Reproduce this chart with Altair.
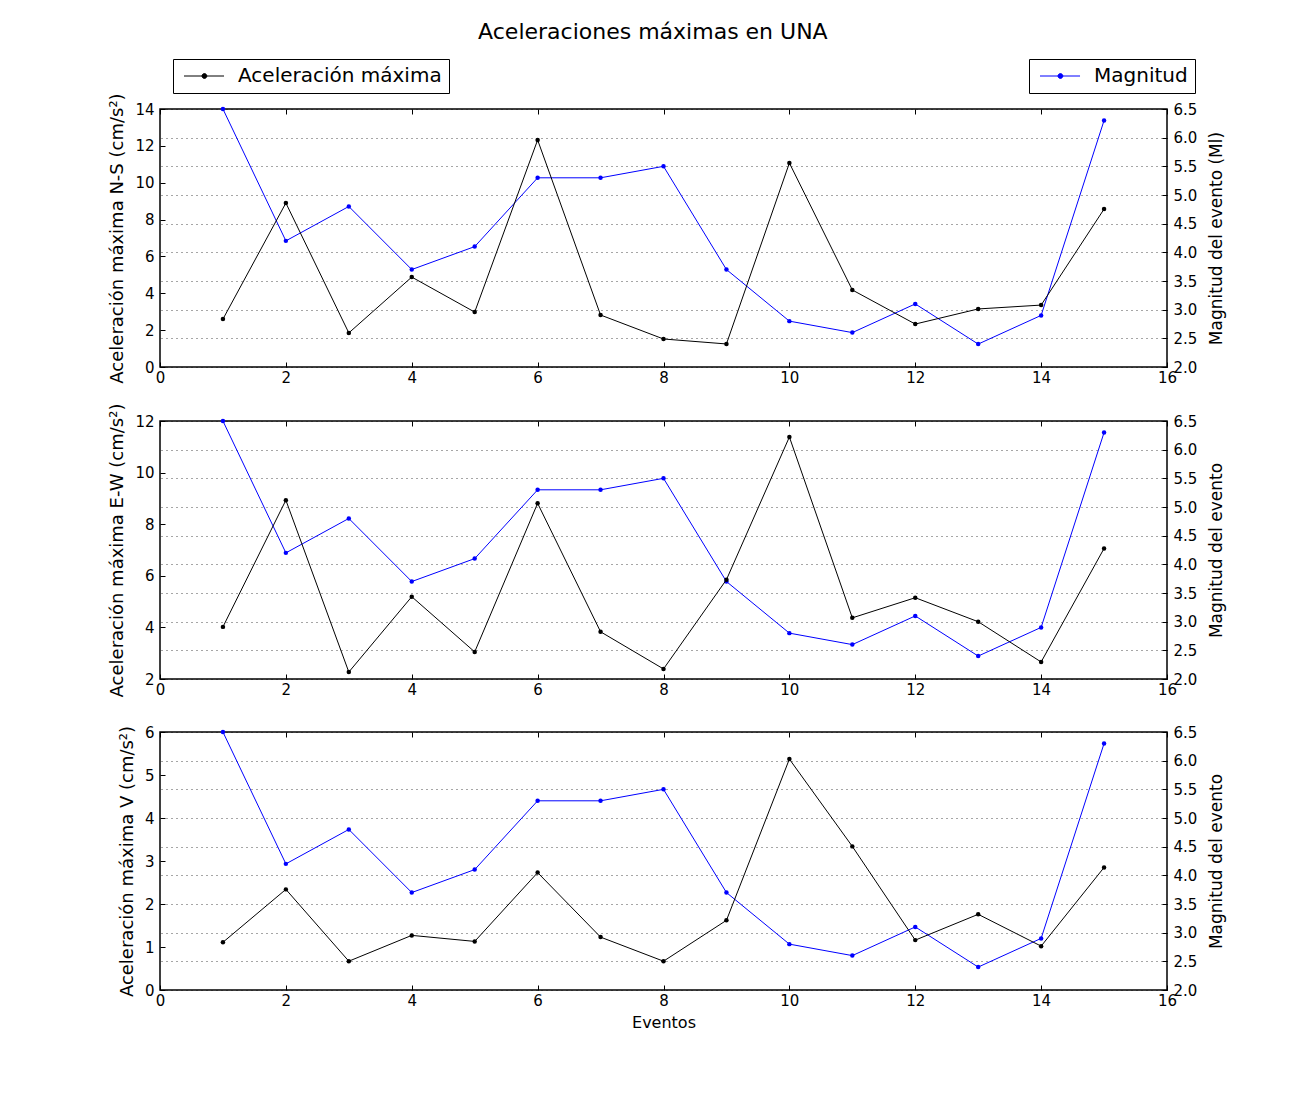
import altair as alt
import pandas as pd

eventos = list(range(1, 16))
magnitud = [6.5, 4.2, 4.8, 3.7, 4.1, 5.3, 5.3, 5.5, 3.7, 2.8, 2.6, 3.1, 2.4, 2.9, 6.3]
acc_ns = [2.6, 8.9, 1.85, 4.88, 2.98, 12.32, 2.82, 1.52, 1.25, 11.07, 4.18, 2.33, 3.15, 3.36, 8.57]
acc_ew = [4.02, 8.93, 2.27, 5.19, 3.05, 8.81, 3.83, 2.39, 5.85, 11.38, 4.37, 5.15, 4.22, 2.66, 7.06]
acc_v = [1.11, 2.34, 0.67, 1.27, 1.13, 2.73, 1.23, 0.67, 1.62, 5.37, 3.34, 1.16, 1.76, 1.02, 2.85]

FONT = "DejaVu Sans"
W, H = 1007, 258
# legend glyph: a line with a dot in the middle
SYM = "M-1,0H5.67M2.0,0A0.4,0.4,0,1,1,2.8,0A0.4,0.4,0,1,1,2.0,0Z"


def leg(x, color):
    return alt.Legend(orient="none", legendX=x, legendY=-50, title=None,
                      strokeColor="black", fillColor="white", padding=7,
                      cornerRadius=0, symbolType=SYM, symbolSize=144,
                      symbolStrokeWidth=1, symbolFillColor=color, symbolStrokeColor=color,
                      labelFontSize=20, labelFont=FONT, labelOffset=38, labelLimit=0,
                      labelColor="black")


def panel(acc, ytitle, rtitle, ydom, ystep, xtitle, legends):
    df = pd.DataFrame({
        "evento": eventos,
        "acc": acc,
        "mag": magnitud,
        "s1": ["Aceleración máxima"] * 15,
        "s2": ["Magnitud"] * 15,
    })
    base = alt.Chart(df)
    xvals = list(range(0, 17, 2))
    nt = int(round((ydom[1] - ydom[0]) / ystep)) + 1
    yvals = [ydom[0] + i * ystep for i in range(nt)]
    x_bottom = alt.X(
        "evento:Q",
        scale=alt.Scale(domain=[0, 16], nice=False, zero=False),
        axis=alt.Axis(values=xvals, title=xtitle if xtitle else None, orient="bottom",
                      offset=-5, tickSize=5, domain=False, grid=False, labelPadding=3,
                      titlePadding=6, titleFontSize=16, labelFlush=False, labelOverlap=False),
    )
    x_top = alt.X(
        "evento:Q",
        scale=alt.Scale(domain=[0, 16], nice=False, zero=False),
        axis=alt.Axis(values=xvals, title=None, orient="top", labels=False,
                      offset=-5, tickSize=5, domain=False, grid=False),
    )
    if legends:
        c1 = alt.Color("s1:N", scale=alt.Scale(domain=["Aceleración máxima"], range=["black"]),
                       legend=leg(13, "black"))
        c2 = alt.Color("s2:N", scale=alt.Scale(domain=["Magnitud"], range=["blue"]),
                       legend=leg(869, "blue"))
    else:
        c1 = alt.value("black")
        c2 = alt.value("blue")

    acc_layer = base.mark_line(strokeWidth=1, point=alt.OverlayMarkDef(filled=True, size=20)).encode(
        x=x_bottom,
        y=alt.Y("acc:Q", scale=alt.Scale(domain=ydom, nice=False, zero=False),
                axis=alt.Axis(values=yvals, title=ytitle, orient="left", offset=-5, tickSize=5,
                              domain=False, grid=False, labelPadding=6, titleFontSize=18,
                              titlePadding=8, format="d", labelFlush=False, labelOverlap=False)),
        color=c1,
    )
    mag_layer = base.mark_line(strokeWidth=1, point=alt.OverlayMarkDef(filled=True, size=20)).encode(
        x=x_top,
        y=alt.Y("mag:Q", scale=alt.Scale(domain=[2.0, 6.5], nice=False, zero=False),
                axis=alt.Axis(values=[2.0 + 0.5 * i for i in range(10)], title=rtitle, orient="right",
                              offset=-5, tickSize=5, domain=False, grid=True, gridDash=[1, 4],
                              gridColor="black", gridOpacity=0.7, labelPadding=6, format=".1f",
                              titleFontSize=17, titlePadding=12, titleAngle=270,
                              titleBaseline="top", labelFlush=False, labelOverlap=False)),
        color=c2,
    )
    return alt.layer(mag_layer, acc_layer).resolve_scale(y="independent", color="independent").resolve_axis(
        x="independent", y="independent").properties(width=W, height=H)


p1 = panel(acc_ns, "Aceleración máxima N-S (cm/s²)", "Magnitud del evento (Ml)", [0, 14], 2, None, True)
p2 = panel(acc_ew, "Aceleración máxima E-W (cm/s²)", "Magnitud del evento", [2, 12], 2, None, False)
p3 = panel(acc_v, "Aceleración máxima V (cm/s²)", "Magnitud del evento", [0, 6], 1, "Eventos", False)

chart = alt.vconcat(p1, alt.vconcat(p2, p3, spacing=26), spacing=16).properties(
    title=alt.TitleParams("Aceleraciones máximas en UNA", fontSize=22, font=FONT, fontWeight="normal",
                          anchor="middle", offset=14, dx=-14, color="black"),
    padding={"left": 100, "top": 12, "right": 5, "bottom": 5},
    background="white",
).configure_view(stroke="black", strokeWidth=1.5).configure_axis(
    labelFont=FONT, titleFont=FONT, labelFontSize=15, titleFontWeight="normal", labelColor="black",
    titleColor="black", tickColor="black", titleFontSize=15,
).configure_concat(spacing=16)

chart.save("out.html", embed_options={"renderer": "svg", "actions": False})
